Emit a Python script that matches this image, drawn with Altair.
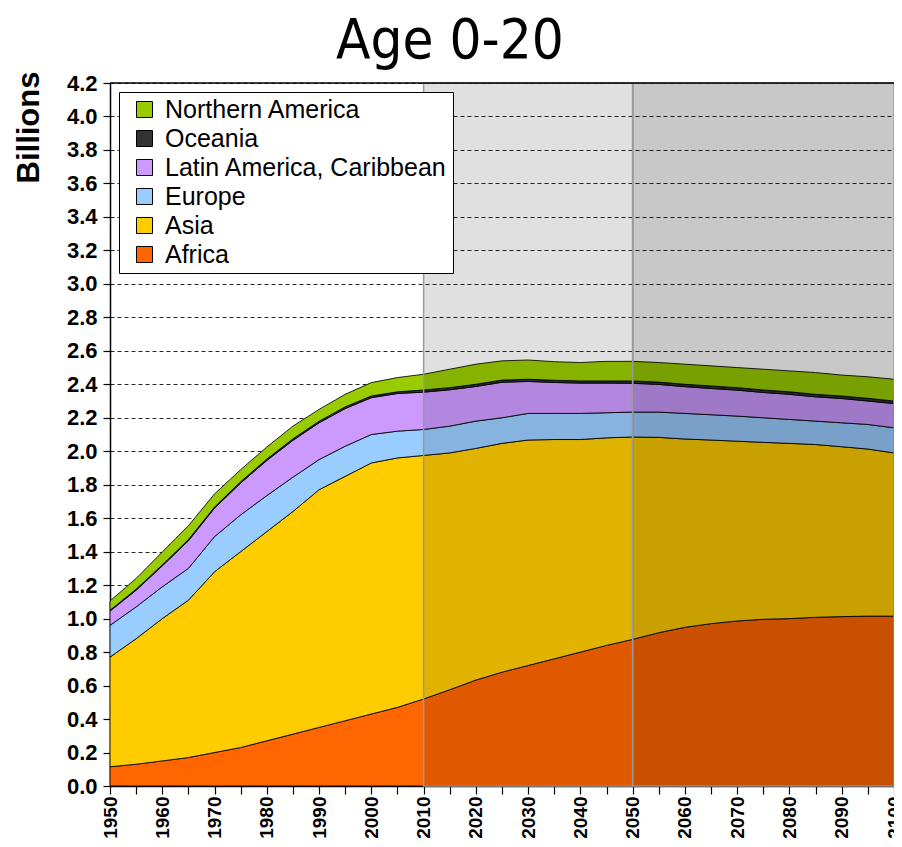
import altair as alt
import pandas as pd

# ---------------- data (billions, age 0-20) ----------------
years = list(range(1950, 2101, 5))

legend_order = ["Northern America", "Oceania", "Latin America, Caribbean",
                "Europe", "Asia", "Africa"]
region_colors = ["#99CC00", "#333333", "#CC99FF", "#99CCFF", "#FFCC00", "#FF6600"]

africa = [0.115, 0.13, 0.15, 0.17, 0.20, 0.23, 0.27, 0.31, 0.35, 0.39, 0.43,
          0.47, 0.52, 0.575, 0.633, 0.68, 0.72, 0.76, 0.80, 0.84, 0.876,
          0.916, 0.948, 0.97, 0.986, 0.996, 1.00, 1.008, 1.012, 1.015, 1.015]
asia = [0.655, 0.75, 0.85, 0.94, 1.08, 1.17, 1.25, 1.33, 1.42, 1.46, 1.50,
        1.49, 1.455, 1.415, 1.384, 1.367, 1.347, 1.31, 1.27, 1.24, 1.209,
        1.167, 1.125, 1.097, 1.074, 1.057, 1.047, 1.032, 1.015, 0.998, 0.975]
europe = [0.19, 0.19, 0.19, 0.19, 0.21, 0.22, 0.215, 0.205, 0.18, 0.18, 0.17,
          0.16, 0.155, 0.16, 0.163, 0.153, 0.159, 0.156, 0.156, 0.15, 0.149,
          0.151, 0.153, 0.151, 0.15, 0.147, 0.143, 0.14, 0.143, 0.147, 0.15]
latin = [0.085, 0.10, 0.125, 0.165, 0.17, 0.19, 0.21, 0.22, 0.22, 0.225, 0.22,
         0.225, 0.223, 0.217, 0.207, 0.212, 0.191, 0.185, 0.181, 0.177, 0.172,
         0.165, 0.16, 0.157, 0.155, 0.151, 0.15, 0.145, 0.145, 0.14, 0.145]
oceania = [0.005, 0.006, 0.006, 0.007, 0.007, 0.008, 0.008, 0.009, 0.009, 0.01,
           0.01, 0.01, 0.013, 0.013, 0.013, 0.013, 0.013, 0.013, 0.013, 0.013,
           0.014, 0.014, 0.014, 0.015, 0.015, 0.015, 0.015, 0.015, 0.015,
           0.016, 0.015]
northern_america = [0.055, 0.064, 0.077, 0.083, 0.078, 0.072, 0.072, 0.076,
                    0.071, 0.075, 0.08, 0.085, 0.094, 0.11, 0.12, 0.115, 0.115,
                    0.111, 0.11, 0.117, 0.117, 0.117, 0.12, 0.12, 0.12, 0.124,
                    0.125, 0.13, 0.125, 0.129, 0.13]

# projection periods (shaded)
period_names = ["2010-2050", "2050-2100"]
period_start = [2010, 2050]
period_end = [2050, 2100]

y_min, y_max = 0.0, 4.2
y_ticks = [round(i * 0.2, 1) for i in range(22)]

# ---------------- tables ----------------
series = {
    "Africa": africa,
    "Asia": asia,
    "Europe": europe,
    "Latin America, Caribbean": latin,
    "Oceania": oceania,
    "Northern America": northern_america,
}
stack_rank = {name: i for i, name in enumerate(series)}
rows = []
for name, vals in series.items():
    for yr, v in zip(years, vals):
        rows.append({"year": yr, "region": name, "value": v,
                     "rank": stack_rank[name]})
df = pd.DataFrame(rows)

shade_df = pd.DataFrame({"period": period_names, "start": period_start,
                         "end": period_end, "lo": [y_min] * 2,
                         "hi": [y_max] * 2})
top_df = pd.DataFrame({"top": [y_max]})

LABEL_FONT = "Liberation Sans"

x_scale = alt.Scale(domain=[years[0], years[-1]], nice=False, zero=False)
y_scale = alt.Scale(domain=[y_min, y_max], nice=False)

x_axis = alt.Axis(values=years, labelAngle=270,
                  labelExpr="datum.value % 10 == 0 ? datum.label : ''",
                  format="d", labelFont=LABEL_FONT, labelFontSize=19,
                  labelFontWeight="bold", labelColor="#000000",
                  labelPadding=2, tickSize=8, tickColor="#000000",
                  tickWidth=1.2, domainColor="#000000", domainWidth=1.5,
                  grid=False, labelFlush=False, labelOverlap=False)

y_axis = alt.Axis(values=y_ticks, format=".1f", title="Billions",
                  titleFont=LABEL_FONT, titleFontSize=31,
                  titleFontWeight="bold", titleColor="#000000",
                  titleAngle=270, titleAlign="center",
                  titleBaseline="alphabetic", titleX=-72, titleY=44,
                  labelFont=LABEL_FONT, labelFontSize=22,
                  labelFontWeight="bold", labelColor="#000000",
                  labelPadding=6, tickSize=7, tickColor="#000000",
                  tickWidth=1.2, domainColor="#000000", domainWidth=1.5,
                  grid=True, gridColor="#000000", gridDash=[4, 3],
                  gridWidth=1, gridOpacity=0.85,
                  labelFlush=False, labelOverlap=False)

areas = alt.Chart(df).mark_area(
    stroke="#000000", strokeWidth=1, strokeOpacity=0.85, interpolate="linear"
).encode(
    x=alt.X("year:Q", scale=x_scale, title=None, axis=x_axis),
    y=alt.Y("value:Q", stack="zero", scale=y_scale, axis=y_axis),
    color=alt.Color("region:N", title=None,
                    scale=alt.Scale(domain=legend_order, range=region_colors),
                    legend=alt.Legend(orient="none", legendX=9, legendY=9,
                                      fillColor="#FFFFFF",
                                      strokeColor="#000000", padding=5,
                                      symbolOffset=8,
                                      symbolType="square", symbolSize=256,
                                      symbolStrokeColor="#000000",
                                      symbolStrokeWidth=1,
                                      symbolOpacity=1,
                                      labelFont=LABEL_FONT, labelFontSize=25,
                                      labelColor="#000000", labelOffset=8,
                                      rowPadding=3, labelLimit=400)),
    order=alt.Order("rank:Q", sort="ascending"),
)

def shade_layer(name, opacity):
    return alt.Chart(shade_df).transform_filter(
        alt.datum.period == name
    ).mark_rect(fill="#000000", fillOpacity=opacity, stroke="#9a9a9a",
                strokeWidth=1.5, strokeOpacity=1).encode(
        x=alt.X("start:Q", scale=x_scale, title=None, axis=x_axis),
        x2="end:Q",
        y=alt.Y("lo:Q", scale=y_scale, axis=y_axis),
        y2="hi:Q")

shade_light = shade_layer(period_names[0], 0.12)
shade_dark = shade_layer(period_names[1], 0.215)

top_rule = alt.Chart(top_df).mark_rule(color="#000000", strokeWidth=1.5).encode(
    y=alt.Y("top:Q", scale=y_scale, axis=y_axis))

chart = alt.layer(areas, shade_light, shade_dark, top_rule).properties(
    width=784, height=703,
    title=alt.TitleParams("Age 0-20",
                          font="Liberation Sans Narrow, DejaVu Sans Condensed, Liberation Sans, sans-serif",
                          fontSize=56, fontWeight="normal", color="#000000",
                          anchor="middle", dx=-52, offset=1),
    padding={"left": 102, "top": 75, "right": 0, "bottom": 53},
    autosize=alt.AutoSizeParams(type="none"),
).configure_view(strokeWidth=0)

chart.save("out.html", embed_options={"renderer": "svg", "actions": False})
